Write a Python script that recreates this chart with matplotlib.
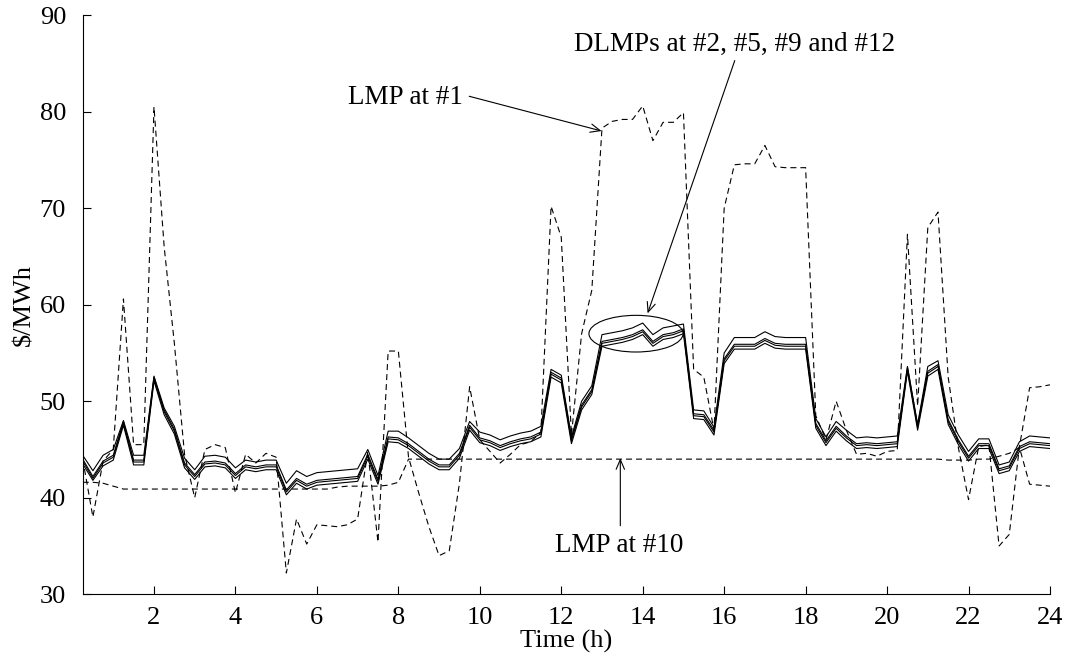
import numpy as np
import matplotlib
matplotlib.use("Agg")
import matplotlib.pyplot as plt
from matplotlib.patches import Ellipse

plt.rcParams['font.family'] = ['Liberation Serif', 'DejaVu Serif']

# time axis: quarter hours 0.25 .. 24
hours = np.arange(1, 97) / 4.0

# LMP at bus #1 (dashed, volatile)
lmp1 = [44.0, 38.0, 43.8, 45.0, 60.6, 45.5, 45.5, 80.5, 66.0, 56.0, 44.5, 40.0,
        45.0, 45.5, 45.2, 40.5, 44.5, 43.6, 44.6, 44.2, 32.2, 37.8, 35.2, 37.2,
        37.1, 37.0, 37.2, 37.8, 44.8, 35.4, 55.2, 55.2, 44.2, 40.5, 37.0, 34.0,
        34.5, 41.5, 51.5, 46.0, 44.8, 43.6, 44.5, 45.5, 45.8, 46.8, 70.2, 67.0,
        46.5, 57.0, 61.5, 78.3, 79.0, 79.2, 79.2, 80.6, 77.0, 78.9, 78.9, 79.9,
        53.3, 52.5, 47.0, 70.0, 74.5, 74.6, 74.6, 76.5, 74.3, 74.2, 74.2, 74.2,
        48.5, 46.0, 50.0, 47.0, 44.5, 44.6, 44.3, 44.8, 44.9, 67.3, 49.5, 68.0,
        69.6, 52.5, 45.2, 39.8, 45.3, 45.5, 35.0, 36.2, 45.3, 51.4, 51.5, 51.7]

# LMP at bus #10 (dashed, nearly flat)
lmp10 = [41.6, 41.6, 41.5, 41.2, 40.9, 40.9, 40.9, 40.9, 40.9, 40.9, 40.9, 40.9,
         40.9, 40.9, 40.9, 40.9, 40.9, 40.9, 40.9, 40.9, 40.9, 40.9, 40.9, 40.9,
         40.9, 41.1, 41.2, 41.2, 41.2, 41.2, 41.3, 41.6, 44.0, 44.0, 44.0, 44.0,
         44.0, 44.0, 44.0, 44.0, 44.0, 44.0, 44.0, 44.0, 44.0, 44.0, 44.0, 44.0,
         44.0, 44.0, 44.0, 44.0, 44.0, 44.0, 44.0, 44.0, 44.0, 44.0, 44.0, 44.0,
         44.0, 44.0, 44.0, 44.0, 44.0, 44.0, 44.0, 44.0, 44.0, 44.0, 44.0, 44.0,
         44.0, 44.0, 44.0, 44.0, 44.0, 44.0, 44.0, 44.0, 44.0, 44.0, 44.0, 44.0,
         44.0, 43.9, 43.9, 43.9, 44.0, 44.0, 44.3, 44.6, 45.2, 41.4, 41.3, 41.2]

# DLMPs at distribution buses (solid)
dlmp2 = [43.5, 41.8, 43.3, 43.9, 47.5, 43.4, 43.4, 52.1, 48.6, 46.6, 43.1, 41.9,
         43.2, 43.3, 43.1, 42.0, 42.9, 42.7, 42.9, 42.9, 40.3, 41.5, 40.9, 41.3,
         41.4, 41.5, 41.6, 41.7, 44.0, 41.4, 45.8, 45.7, 45.1, 44.3, 43.5, 42.9,
         42.9, 44.1, 47.0, 45.7, 45.4, 44.9, 45.3, 45.6, 45.8, 46.3, 52.5, 51.9,
         45.6, 49.1, 50.7, 55.7, 55.9, 56.1, 56.4, 56.9, 55.7, 56.4, 56.6, 57.0,
         48.2, 48.1, 46.5, 53.9, 55.4, 55.4, 55.4, 56.0, 55.5, 55.4, 55.4, 55.4,
         47.2, 45.4, 46.9, 45.9, 45.1, 45.2, 45.1, 45.2, 45.3, 53.1, 47.0, 52.6,
         53.3, 47.6, 45.5, 43.8, 45.1, 45.1, 42.5, 42.8, 44.8, 45.3, 45.2, 45.1]

dlmp5 = [43.8, 42.0, 43.6, 44.2, 47.7, 43.7, 43.7, 52.3, 48.9, 46.9, 43.4, 42.2,
         43.5, 43.6, 43.4, 42.3, 43.2, 43.0, 43.2, 43.2, 40.6, 41.8, 41.2, 41.6,
         41.7, 41.8, 41.9, 42.0, 44.3, 41.7, 46.1, 46.0, 45.4, 44.6, 43.8, 43.2,
         43.2, 44.4, 47.3, 46.0, 45.7, 45.2, 45.6, 45.9, 46.1, 46.6, 52.8, 52.2,
         45.9, 49.4, 51.0, 56.0, 56.2, 56.4, 56.7, 57.2, 56.0, 56.7, 56.9, 57.3,
         48.5, 48.4, 46.8, 54.2, 55.7, 55.7, 55.7, 56.3, 55.8, 55.7, 55.7, 55.7,
         47.5, 45.7, 47.2, 46.2, 45.4, 45.5, 45.4, 45.5, 45.6, 53.3, 47.3, 52.9,
         53.6, 47.9, 45.8, 44.1, 45.4, 45.4, 42.8, 43.1, 45.1, 45.6, 45.5, 45.4]

dlmp9 = [44.0, 42.2, 43.8, 44.4, 47.9, 43.9, 43.9, 52.5, 49.1, 47.1, 43.6, 42.4,
         43.7, 43.8, 43.6, 42.5, 43.4, 43.2, 43.4, 43.4, 40.8, 42.0, 41.4, 41.8,
         41.9, 42.0, 42.1, 42.2, 44.5, 41.9, 46.3, 46.2, 45.6, 44.8, 44.0, 43.4,
         43.4, 44.6, 47.5, 46.2, 45.9, 45.4, 45.8, 46.1, 46.3, 46.8, 53.0, 52.4,
         46.1, 49.6, 51.2, 56.2, 56.4, 56.6, 56.9, 57.4, 56.2, 56.9, 57.1, 57.5,
         48.7, 48.6, 47.0, 54.4, 55.9, 55.9, 55.9, 56.5, 56.0, 55.9, 55.9, 55.9,
         47.7, 45.9, 47.4, 46.4, 45.6, 45.7, 45.6, 45.7, 45.8, 53.5, 47.5, 53.1,
         53.8, 48.1, 46.0, 44.3, 45.6, 45.6, 43.0, 43.3, 45.3, 45.8, 45.7, 45.6]

dlmp12 = [44.4, 42.8, 44.4, 45.0, 48.0, 44.4, 44.4, 52.6, 49.3, 47.4, 44.1, 42.9,
          44.3, 44.4, 44.2, 43.1, 43.9, 43.7, 43.9, 43.9, 41.5, 42.8, 42.2, 42.6,
          42.7, 42.8, 42.9, 43.0, 45.0, 42.3, 46.9, 46.9, 46.2, 45.4, 44.6, 44.0,
          44.0, 45.1, 47.9, 46.8, 46.5, 46.0, 46.4, 46.7, 46.9, 47.4, 53.3, 52.7,
          46.3, 50.0, 51.6, 56.9, 57.1, 57.3, 57.6, 58.1, 56.9, 57.6, 57.8, 58.0,
          49.1, 49.0, 47.3, 55.0, 56.6, 56.6, 56.6, 57.2, 56.7, 56.6, 56.6, 56.6,
          48.2, 46.3, 47.9, 47.0, 46.2, 46.3, 46.2, 46.3, 46.4, 53.6, 47.6, 53.6,
          54.2, 48.6, 46.5, 44.8, 46.1, 46.1, 43.4, 43.7, 45.8, 46.4, 46.3, 46.2]

fig = plt.figure(figsize=(10.70, 6.61), dpi=100)
ax = fig.add_axes([0.0773, 0.101, 0.904, 0.876])

dash = (0, (5.4, 3.6))
ax.plot(hours, lmp1, color='k', lw=0.8, ls=dash)
ax.plot(hours, lmp10, color='k', lw=0.8, ls=dash)
for d in [dlmp2, dlmp5, dlmp9, dlmp12]:
    ax.plot(hours, d, color='k', lw=0.8)

ax.set_xlim(0.25, 24)
ax.set_ylim(30, 90)
ax.set_xticks(np.arange(2, 25, 2))
ax.set_yticks(np.arange(30, 91, 10))
ax.tick_params(direction='in', length=6, width=0.8, labelsize=19)
ax.tick_params(axis='y', pad=12)
ax.tick_params(axis='x', pad=9)
for s in ['top', 'right']:
    ax.spines[s].set_visible(False)
for s in ['left', 'bottom']:
    ax.spines[s].set_linewidth(0.8)

ax.set_xlabel('Time (h)', fontsize=19, labelpad=1)
ax.set_ylabel(r'\$/MWh', fontsize=19, labelpad=3)

arrow = dict(arrowstyle='->,head_length=0.7,head_width=0.3', lw=0.8,
             color='k', shrinkA=0, shrinkB=0)

ax.text(8.17, 81.5, 'LMP at #1', fontsize=19.5, ha='center', va='center')
ax.annotate('', xy=(12.99, 78.0), xytext=(9.74, 81.6), arrowprops=arrow)

ax.text(16.25, 87.0, 'DLMPs at #2, #5, #9 and #12', fontsize=19.5,
        ha='center', va='center')
ax.annotate('', xy=(14.12, 59.1), xytext=(16.26, 85.3), arrowprops=arrow)
ax.add_patch(Ellipse((13.835, 57.0), 2.31, 3.8, fill=False, lw=0.8, color='k'))

ax.text(13.42, 35.0, 'LMP at #10', fontsize=19.5, ha='center', va='center')
ax.annotate('', xy=(13.45, 44.1), xytext=(13.45, 37.1), arrowprops=arrow)

fig.savefig('out.png', dpi=100)
